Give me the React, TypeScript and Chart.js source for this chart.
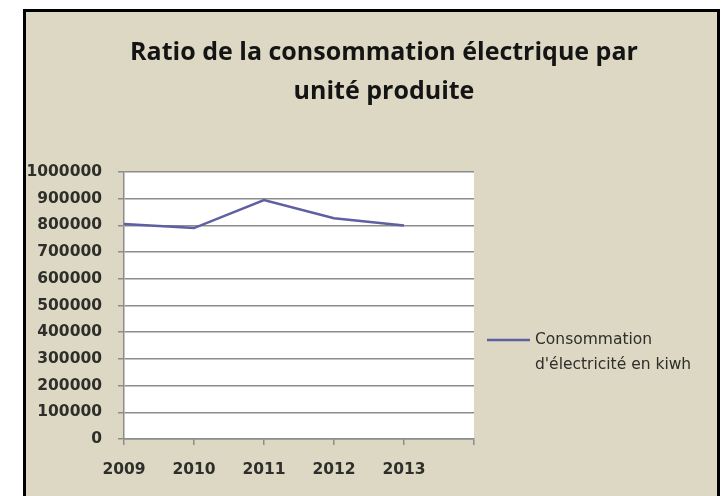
import React, { useEffect, useRef } from "react";
import { Chart, registerables } from "chart.js";

Chart.register(...registerables);

const titleLines = ["Ratio de la consommation électrique par", "unité produite"];
const categories = ["2009", "2010", "2011", "2012", "2013", ""];
const seriesName = "Consommation d'électricité en kiwh";
const legendLines = ["Consommation", "d'électricité en kiwh"];
const consumption: (number | null)[] = [805000, 790000, 895000, 827000, 800000, null];
const yMin = 0;
const yMax = 1000000;
const yStep = 100000;

const LINE_COLOR = "#5f5fa3";
const GRID_COLOR = "#8c8c8c";
const TEXT_COLOR = "#2e2e2a";
const TICK_FONT = { family: "'DejaVu Sans', Verdana, sans-serif", size: 15.5, weight: "bold" as const };

const plotBackground = {
  id: "plotBackground",
  beforeDraw(chart: any) {
    const { ctx, chartArea } = chart;
    ctx.save();
    ctx.fillStyle = "#ffffff";
    ctx.fillRect(chartArea.left, chartArea.top, chartArea.right - chartArea.left, chartArea.bottom - chartArea.top);
    ctx.restore();
  },
};

const sideLegend = {
  id: "sideLegend",
  afterDraw(chart: any) {
    const { ctx, chartArea } = chart;
    const x0 = chartArea.right + 13;
    const y0 = 340;
    ctx.save();
    ctx.strokeStyle = LINE_COLOR;
    ctx.lineWidth = 2.5;
    ctx.beginPath();
    ctx.moveTo(x0, y0);
    ctx.lineTo(x0 + 43, y0);
    ctx.stroke();
    ctx.fillStyle = TEXT_COLOR;
    ctx.font = "15.5px 'DejaVu Sans', Verdana, sans-serif";
    ctx.textBaseline = "middle";
    ctx.textAlign = "left";
    legendLines.forEach((t, i) => ctx.fillText(t, x0 + 48, y0 + i * 25));
    ctx.restore();
  },
};

export default function App() {
  const ref = useRef<HTMLCanvasElement | null>(null);
  useEffect(() => {
    if (!ref.current) return;
    const chart = new Chart(ref.current, {
      type: "line",
      data: {
        labels: categories,
        datasets: [
          {
            label: seriesName,
            data: consumption,
            borderColor: LINE_COLOR,
            backgroundColor: LINE_COLOR,
            borderWidth: 2.5,
            pointRadius: 0,
            tension: 0,
            spanGaps: false,
            yAxisID: "y",
          },
        ],
      },
      options: {
        responsive: false,
        animation: false,
        devicePixelRatio: 1,
        layout: { padding: 0 },
        plugins: {
          legend: { display: false },
          tooltip: { enabled: false },
          title: {
            display: true,
            text: titleLines,
            color: "#141414",
            font: { family: "'Open Sans', Lato, sans-serif", size: 25, weight: "bold", lineHeight: 1.56 },
            padding: { top: 33, bottom: 61 },
          },
        },
        scales: {
          x: {
            type: "category",
            offset: false,
            grid: {
              display: true,
              drawOnChartArea: false,
              drawTicks: true,
              tickLength: 6,
              color: GRID_COLOR,
              lineWidth: 1.5,
            },
            border: { display: true, color: GRID_COLOR, width: 1.5 },
            ticks: { color: TEXT_COLOR, font: TICK_FONT, padding: 16, maxRotation: 0, autoSkip: false },
            afterFit: (scale: any) => {
              scale.height = 57;
            },
          },
          y: {
            position: "left",
            min: yMin,
            max: yMax,
            grid: { color: GRID_COLOR, lineWidth: 1.5, tickLength: 6, drawTicks: true },
            border: { display: true, color: GRID_COLOR, width: 1.5 },
            ticks: {
              stepSize: yStep,
              color: TEXT_COLOR,
              font: TICK_FONT,
              padding: 16,
              callback: (v: any) => String(v),
            },
            afterFit: (scale: any) => {
              scale.width = 98;
            },
          },
          yRight: {
            position: "right",
            min: yMin,
            max: yMax,
            grid: { display: false, drawTicks: false },
            border: { display: false },
            ticks: { display: false },
            afterFit: (scale: any) => {
              scale.width = 268;
            },
          },
        },
      },
      plugins: [plotBackground, sideLegend],
    });
    return () => chart.destroy();
  }, []);

  return (
    <div style={{ position: "fixed", left: 0, top: 0, width: 724, height: 496, overflow: "hidden", background: "#ffffff" }}>
      <div
        style={{
          position: "absolute",
          left: 23,
          top: 9,
          width: 697,
          height: 600,
          boxSizing: "border-box",
          border: "3px solid #000",
          background: "#DDD8C4",
        }}
      />
      <canvas ref={ref} width={716} height={496} style={{ position: "absolute", left: 26, top: 0, width: 716, height: 496 }} />
    </div>
  );
}
